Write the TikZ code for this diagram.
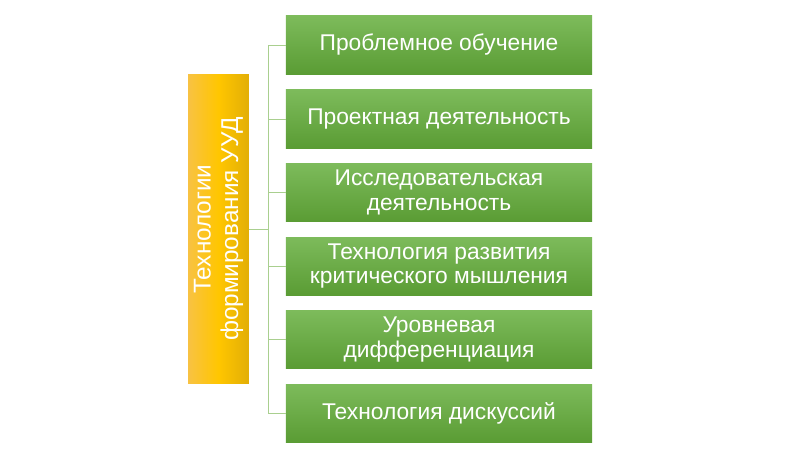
\documentclass[tikz,border=0pt]{standalone}
\usepackage{fontspec}
\setmainfont{Liberation Sans}
\usepackage{tikz}
\usetikzlibrary{calc,shapes}
\tikzstyle{every picture}=[->,>=latex]
\definecolor{gtop}{HTML}{7DBB5B}
\definecolor{gbot}{HTML}{5A9C34}
\definecolor{oleft}{HTML}{F8C243}
\definecolor{omid}{HTML}{FFC600}
\definecolor{oright}{HTML}{E2AE06}
\definecolor{linkcol}{HTML}{A9CF8F}
\tikzstyle{greenbox}=[rectangle,top color=gtop,bottom color=gbot,minimum width=7.65cm,minimum height=1.45cm,inner sep=0pt,align=center,text=white,font=\fontsize{16.2}{17.3}\selectfont]
\tikzstyle{hubbox}=[rectangle,left color=oleft,right color=oright,middle color=omid,rotate=90,minimum width=7.7cm,minimum height=1.52cm,inner sep=0pt,align=center,text=white,font=\fontsize{17.3}{19.5}\selectfont]
\tikzstyle{link}=[-,draw=linkcol,line width=0.7pt]

\begin{document}
\begin{tikzpicture}[x=0.025cm,y=-0.025cm]
    \useasboundingbox (0,0) rectangle (800,450);

    % Left box
    \node[hubbox] (hub) at (218.5,229) {Технологии\\формирования УУД};
    \coordinate (trunk) at (268,229);

    % Boxes on the right
    \node[greenbox] (b1) at (439,45) {Проблемное обучение};
    \node[greenbox] (b2) at (439,119) {Проектная деятельность};
    \node[greenbox] (b3) at (439,192.5) {Исследовательская\\деятельность};
    \node[greenbox] (b4) at (439,266) {Технология развития\\критического мышления};
    \node[greenbox] (b5) at (439,339.5) {Уровневая\\дифференциация};
    \node[greenbox] (b6) at (439,413) {Технология дискуссий};

    % Connectors
    \draw[link] (hub) -- (trunk);
    \foreach \i in {1,...,6}
        \draw[link] (trunk) |- (b\i.west);

\end{tikzpicture}
\end{document}
